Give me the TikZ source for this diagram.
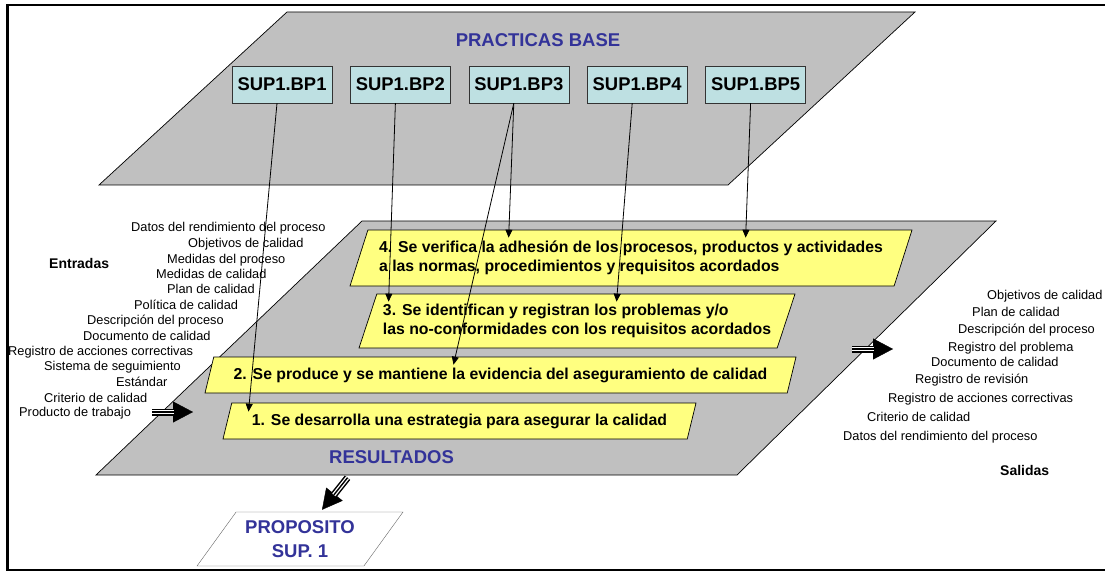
\documentclass[tikz,border=0pt]{standalone}
\usepackage{fontspec}
\setmainfont{Liberation Sans}
\usepackage{xcolor}
\usetikzlibrary{arrows.meta,positioning,shapes.geometric}

\definecolor{gris}{RGB}{192,192,192}
\definecolor{turquesa}{RGB}{190,224,226}
\definecolor{amarillo}{RGB}{255,255,128}
\definecolor{azul}{RGB}{51,51,153}

\begin{document}
\begin{tikzpicture}[x=1pt, y=-1pt,
  plano/.style={fill=gris, draw=black, line width=0.7pt},
  bp/.style={rectangle, draw=black!80, fill=turquesa, minimum width=100pt, minimum height=37pt, inner sep=0pt, font=\bfseries\fontsize{18.4}{20}\selectfont},
  paso/.style={trapezium, trapezium left angle=65, trapezium right angle=115, trapezium stretches body, draw=black, line width=0.7pt, fill=amarillo, align=left, inner sep=2pt, font=\bfseries\fontsize{15.8}{19.5}\selectfont},
  item/.style={anchor=west, inner sep=0pt, text height=9.2pt, text depth=0pt, font=\fontsize{12.8}{14}\selectfont},
  titulo/.style={anchor=west, inner sep=0pt, text height=10pt, text depth=0pt, font=\bfseries\fontsize{14}{16}\selectfont},
  rotulo/.style={inner sep=0pt, text=azul, font=\bfseries\fontsize{18.5}{22}\selectfont},
  arr/.style={line width=0.8pt, -{Triangle[length=8pt,width=7pt]}},
  flecha/.style={line width=7pt, -{Triangle[length=20pt,width=21pt,line width=0.4pt]},
    postaction={draw=white, line width=4pt, -, shorten >=19pt},
    postaction={draw=black, line width=1.4pt, -, shorten >=19pt}}]
  \useasboundingbox (0,0) rectangle (1105,572);

  % marco
  \draw[line width=2.5pt] (1105,5) -- (7.5,5) -- (7.5,570) -- (1105,570);

  % planos
  \draw[plano] (287,12) -- (915,12) -- (728,185) -- (99,185) -- cycle;
  \draw[plano] (362,221) -- (996,221) -- (737,475) -- (96,475) -- cycle;
  \node[rotulo] (base) at (538,40) {PRACTICAS BASE};
  \node[rotulo] (resul) at (391.5,457) {RESULTADOS};

  % practicas base
  \node[bp] (b1) at (282,84.5) {SUP1.BP1};
  \node[bp, right=18pt of b1] (b2) {SUP1.BP2};
  \node[bp, right=18pt of b2] (b3) {SUP1.BP3};
  \node[bp, right=18pt of b3] (b4) {SUP1.BP4};
  \node[bp, right=18pt of b4] (b5) {SUP1.BP5};

  % resultados
  \node[paso, minimum width=562pt, minimum height=56pt] (y4) at (631,258)
    {4. Se verifica la adhesión de los procesos, productos y actividades\\a las normas, procedimientos y requisitos acordados};
  \node[paso, minimum width=436pt, minimum height=54pt] (y3) at (577,321)
    {3. Se identifican y registran los problemas y/o\\las no-conformidades con los requisitos acordados};
  \node[paso, minimum width=591pt, minimum height=36pt] (y2) at (500.5,375)
    {2. Se produce y se mantiene la evidencia del aseguramiento de calidad};
  \node[paso, minimum width=473pt, minimum height=36pt] (y1) at (459.5,421)
    {1. Se desarrolla una estrategia para asegurar la calidad};

  \draw[arr] ([xshift=-5pt]b1.south) -- ([shift={(17,9)}]y1.top left corner);
  \draw[arr] ([xshift=-5pt]b2.south) -- ([shift={(12,8)}]y3.top left corner);
  \draw[arr] ([xshift=-5pt]b3.south) -- ([shift={(141,8)}]y4.top left corner);
  \draw[arr] ([xshift=-5pt]b3.south) -- ([shift={(240,8)}]y2.top left corner);
  \draw[arr] ([xshift=-5pt]b4.south) -- ([shift={(240,8)}]y3.top left corner);
  \draw[arr] ([xshift=-5pt]b5.south) -- ([shift={(378,8)}]y4.top left corner);

  % entradas
  \node[titulo] (ent) at (49,263) {Entradas};
  \foreach \n/\x/\y/\t in {1/131/227/{Datos del rendimiento del proceso},
      2/188/243/{Objetivos de calidad}, 3/167/259/{Medidas del proceso},
      4/156/274/{Medidas de calidad}, 5/167/289/{Plan de calidad},
      6/134/305/{Política de calidad}, 7/87/320/{Descripción del proceso},
      8/83/336/{Documento de calidad}, 9/8/351/{Registro de acciones correctivas},
      10/44/366/{Sistema de seguimiento}, 11/116/382/{Estándar},
      12/44/398/{Criterio de calidad}, 13/19/412/{Producto de trabajo}}
    \node[item] (in\n) at (\x,\y) {\t};
  \coordinate (ein) at (193,412);
  \draw[flecha] ([xshift=21pt]in13.east) -- (ein);

  % salidas
  \node[titulo] (sal) at (1000,470) {Salidas};
  \foreach \n/\x/\y/\t in {1/987/295/{Objetivos de calidad},
      2/972/312/{Plan de calidad}, 3/958/329/{Descripción del proceso},
      4/948/347/{Registro del problema}, 5/931/362/{Documento de calidad},
      6/915/379/{Registro de revisión}, 7/888/398/{Registro de acciones correctivas},
      8/867/417/{Criterio de calidad}, 9/843/436/{Datos del rendimiento del proceso}}
    \node[item] (out\n) at (\x,\y) {\t};
  \coordinate (sal0) at (852,349);
  \coordinate (sal1) at (893,349);
  \draw[flecha] (sal0) -- (sal1);

  % proposito
  \node[trapezium, trapezium left angle=45, trapezium right angle=135, trapezium stretches body,
    draw=black!60, fill=white, minimum width=206pt, minimum height=54pt, align=center, inner sep=1pt,
    text=azul, font=\bfseries\fontsize{18.5}{24}\selectfont] (prop) at (300,539) {PROPOSITO\\SUP. 1};
  \draw[flecha] ([xshift=-44pt,yshift=-14pt]resul.south) -- ([xshift=22pt,yshift=2pt]prop.north);
\end{tikzpicture}
\end{document}
